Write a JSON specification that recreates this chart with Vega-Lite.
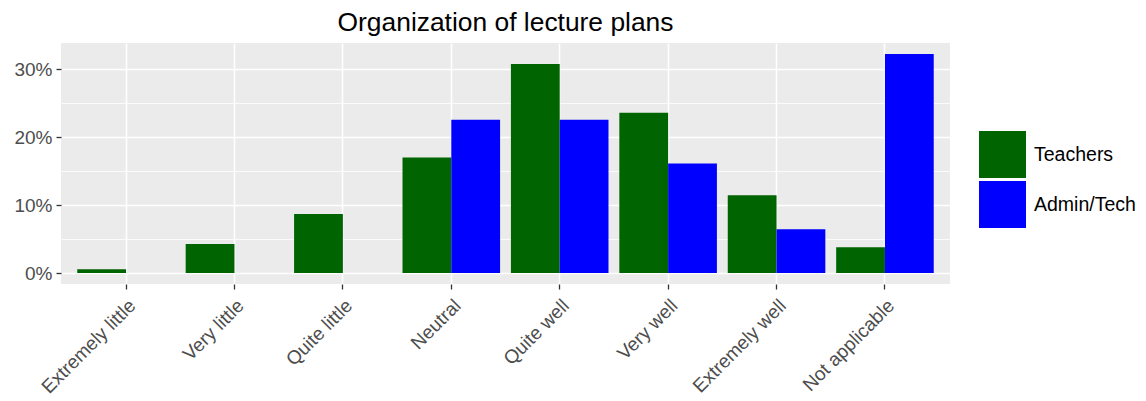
{
  "$schema": "https://vega.github.io/schema/vega-lite/v6.json",
  "autosize": "none",
  "padding": {"left": 61, "top": 43, "right": 196, "bottom": 117},
  "width": 889,
  "height": 241,
  "background": "white",
  "title": {
    "text": "Organization of lecture plans",
    "fontSize": 26.4,
    "font": "Liberation Sans",
    "fontWeight": "normal",
    "color": "black",
    "anchor": "middle",
    "frame": "group",
    "offset": 7
  },
  "data": {
    "values": [
      {"rating": "Extremely little", "group": "Teachers", "share": 0.0055},
      {"rating": "Very little", "group": "Teachers", "share": 0.0428},
      {"rating": "Quite little", "group": "Teachers", "share": 0.087},
      {"rating": "Neutral", "group": "Teachers", "share": 0.170},
      {"rating": "Quite well", "group": "Teachers", "share": 0.3078},
      {"rating": "Very well", "group": "Teachers", "share": 0.236},
      {"rating": "Extremely well", "group": "Teachers", "share": 0.1146},
      {"rating": "Not applicable", "group": "Teachers", "share": 0.0379},
      {"rating": "Neutral", "group": "Admin/Tech", "share": 0.2258},
      {"rating": "Quite well", "group": "Admin/Tech", "share": 0.2258},
      {"rating": "Very well", "group": "Admin/Tech", "share": 0.1613},
      {"rating": "Extremely well", "group": "Admin/Tech", "share": 0.0645},
      {"rating": "Not applicable", "group": "Admin/Tech", "share": 0.3226}
    ]
  },
  "mark": {"type": "bar"},
  "encoding": {
    "x": {
      "field": "rating",
      "type": "nominal",
      "sort": ["Extremely little", "Very little", "Quite little", "Neutral", "Quite well", "Very well", "Extremely well", "Not applicable"],
      "scale": {"paddingInner": 0.1, "paddingOuter": 0.15},
      "axis": {
        "title": null,
        "labelAngle": -45,
        "labelAlign": "right",
        "labelBaseline": "top",
        "labelFontSize": 19,
        "labelColor": "#4D4D4D",
        "labelPadding": 7,
        "tickColor": "#333333",
        "tickSize": 5,
        "tickWidth": 1.3,
        "bandPosition": 0.5,
        "grid": true,
        "gridColor": "white",
        "gridWidth": 1.5,
        "domain": false
      }
    },
    "xOffset": {
      "field": "group",
      "type": "nominal",
      "sort": ["Teachers", "Admin/Tech"],
      "scale": {"paddingInner": 0, "paddingOuter": 0}
    },
    "y": {
      "field": "share",
      "type": "quantitative",
      "scale": {"domain": [-0.01613, 0.33871], "nice": false, "zero": false},
      "axis": {
        "title": null,
        "values": [0, 0.05, 0.1, 0.15, 0.2, 0.25, 0.3],
        "labelExpr": "round(datum.value*100) % 10 === 0 ? format(datum.value, '.0%') : ''",
        "labelFontSize": 19,
        "labelColor": "#4D4D4D",
        "labelPadding": 4,
        "tickColor": "#333333",
        "tickSize": 5,
        "tickWidth": 1.3,
        "tickOpacity": {"condition": {"test": "round(datum.value*100) % 10 === 0", "value": 1}, "value": 0},
        "grid": true,
        "gridColor": "white",
        "gridWidth": {"condition": {"test": "round(datum.value*100) % 10 === 0", "value": 1.5}, "value": 0.8},
        "domain": false
      }
    },
    "color": {
      "field": "group",
      "type": "nominal",
      "sort": ["Teachers", "Admin/Tech"],
      "scale": {"domain": ["Teachers", "Admin/Tech"], "range": ["#006400", "#0000FF"]},
      "legend": {
        "title": null,
        "orient": "none",
        "legendX": 918,
        "legendY": 88,
        "symbolType": "square",
        "symbolSize": 2209,
        "symbolStrokeWidth": 0,
        "symbolOpacity": 1,
        "labelFontSize": 19.5,
        "labelColor": "black",
        "labelOffset": 8,
        "rowPadding": 3,
        "padding": 0
      }
    }
  },
  "config": {
    "font": "Liberation Sans",
    "view": {"stroke": null, "fill": "#EBEBEB"},
    "axis": {"labelFont": "Liberation Sans"},
    "legend": {"labelFont": "Liberation Sans"}
  }
}
